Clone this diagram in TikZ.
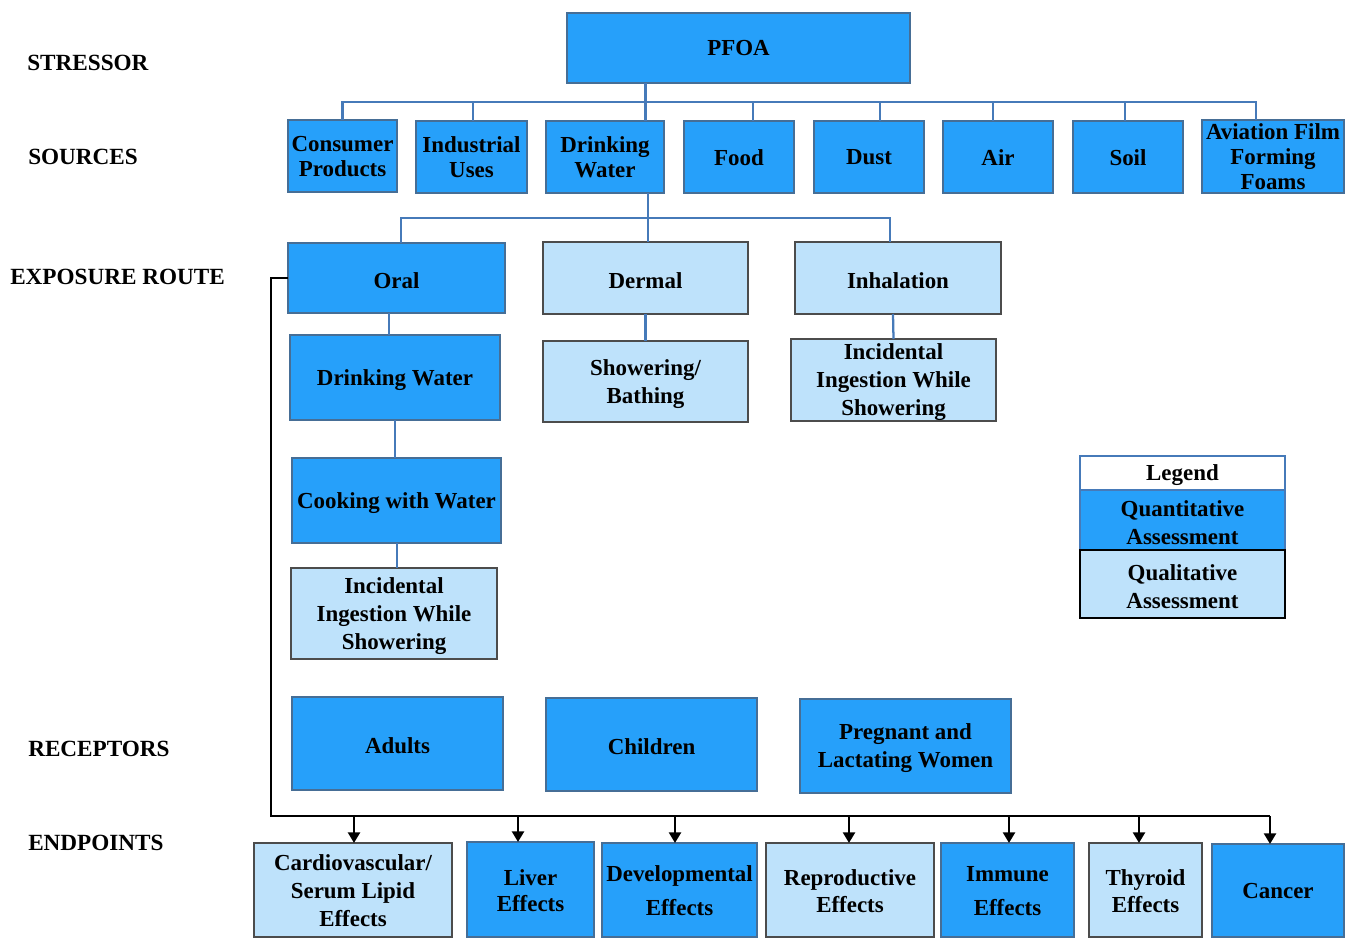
\documentclass[tikz,border=0pt]{standalone}
\usepackage{fontspec}
\setmainfont{Liberation Serif}
\usetikzlibrary{arrows.meta,calc}
\definecolor{qdark}{RGB}{38,160,250}
\definecolor{qlight}{RGB}{190,226,251}
\definecolor{connc}{RGB}{70,122,185}
\definecolor{bdark}{RGB}{70,110,150}
\tikzset{
 base/.style={inner sep=0pt, outer sep=0pt, align=center, font=\bfseries\fontsize{17.2}{21}\selectfont},
 dark/.style={base, fill=qdark, draw=bdark, line width=0.8pt},
 light/.style={base, fill=qlight, draw=gray!60!black, line width=0.8pt},
 src/.style={dark, font=\bfseries\fontsize{17.2}{18.75}\selectfont},
 lbl/.style={anchor=west, inner sep=0pt, font=\bfseries\fontsize{17.4}{21}\selectfont},
 conn/.style={draw=connc, line width=1.7pt},
 blk/.style={draw=black, line width=1.8pt},
 arr/.style={blk, -{Triangle[length=8pt,width=9pt]}},
 txt/.style={draw=none, fill=none, minimum width=0pt, minimum height=0pt},
}
\def\tsh{2.5}
\newcommand\bx[7]{%
 \pgfmathsetmacro\bw{(#4-#2)*0.75}%
 \pgfmathsetmacro\bh{(#5-#3)*0.75}%
 \node[#6, minimum width=\bw pt, minimum height=\bh pt] (#1) at ({(#2+#4)/2},{(#3+#5)/2}) {};%
 \node[#6, txt] (#1-t) at ($(#1.center)+(0,\tsh)$) {#7};%
}
\begin{document}
\begin{tikzpicture}[x=0.75pt,y=-0.75pt]
\useasboundingbox (0,0) rectangle (1353,938);

% row labels
\node[lbl] (l1) at (27,63) {STRESSOR};
\node[lbl] (l2) at (28,157) {SOURCES};
\node[lbl] (l3) at (10,277) {EXPOSURE ROUTE};
\node[lbl] (l4) at (28,749) {RECEPTORS};
\node[lbl] (l5) at (28,843) {ENDPOINTS};

\def\tsh{0.5}
% stressor
\bx{pfoa}{567}{13}{910}{83}{dark}{PFOA}

% sources
\bx{cons}{288}{120}{397}{192}{src}{Consumer\\Products}
\bx{ind}{416}{121}{527}{193}{src}{Industrial\\Uses}
\bx{dwsrc}{546}{121}{664}{193}{src}{Drinking\\Water}
\bx{food}{684}{121}{794}{193}{src}{Food}
\bx{dust}{814}{121}{924}{193}{src}{Dust}
\bx{air}{943}{121}{1053}{193}{src}{Air}
\bx{soil}{1073}{121}{1183}{193}{src}{Soil}
\bx{avi}{1202}{120}{1344}{193}{src}{Aviation Film\\Forming\\Foams}

\def\tsh{2.5}
% exposure routes
\bx{oral}{288}{243}{505}{313}{dark}{Oral}
\bx{derm}{543}{242}{748}{314}{light}{Dermal}
\bx{inh}{795}{242}{1001}{314}{light}{Inhalation}
\bx{dw}{290}{335}{500}{420}{dark}{Drinking Water}
\bx{cook}{292}{458}{501}{543}{dark}{Cooking with Water}
\bx{inca}{291}{568}{497}{659}{light}{Incidental\\Ingestion While\\Showering}
\bx{show}{543}{341}{748}{422}{light}{Showering/\\Bathing}
\bx{incb}{791}{339}{996}{421}{light}{Incidental\\Ingestion While\\Showering}

% legend
\bx{lg}{1080}{456}{1285}{490}{base, fill=white, draw=connc, line width=1.2pt}{Legend}
\bx{lgq}{1080}{490}{1285}{550}{dark, draw=connc, line width=1.2pt}{Quantitative\\Assessment}
\bx{lgl}{1080}{550}{1285}{618}{light, draw=black, line width=1.5pt}{Qualitative\\Assessment}

% receptors
\bx{adu}{292}{697}{503}{790}{dark}{Adults}
\bx{chi}{546}{698}{757}{791}{dark}{Children}
\bx{pre}{800}{699}{1011}{793}{dark}{Pregnant and\\Lactating Women}

% endpoints
\def\tsh{1}
\bx{card}{254}{843}{452}{937}{light}{Cardiovascular/\\Serum Lipid\\Effects}
\bx{liv}{467}{842}{594}{937}{dark}{Liver\\[-2pt]Effects}
\bx{dev}{602}{843}{757}{937}{dark}{Developmental\\[4.5pt]Effects}
\bx{rep}{766}{843}{934}{937}{light}{Reproductive\\[-1pt]Effects}
\bx{imm}{941}{843}{1074}{937}{dark}{Immune\\[4.5pt]Effects}
\bx{thy}{1089}{843}{1202}{937}{light}{Thyroid\\[-1pt]Effects}
\bx{can}{1212}{844}{1344}{937}{dark}{Cancer}

% source connectors
\coordinate (sbus) at (645.5,102);
\draw[conn] ($(pfoa.south)+(-93,0)$) -- ($(dwsrc.north)+(40.5,0)$);
\draw[conn] (cons.north) |- (sbus) -| ($(avi.north)+(-17,0)$);
\draw[conn] ($(ind.north)+(1.5,0)$) -- ++(0,-19);
\draw[conn] ($(food.north)+(14,0)$) -- ++(0,-19);
\draw[conn] ($(dust.north)+(11,0)$) -- ++(0,-19);
\draw[conn] ($(air.north)+(-5,0)$) -- ++(0,-19);
\draw[conn] ($(soil.north)+(-3,0)$) -- ++(0,-19);

% exposure connectors
\coordinate (xbus) at (648,218);
\draw[conn] ($(dwsrc.south)+(43,0)$) -- ($(derm.north)+(2.5,0)$);
\draw[conn] ($(oral.north)+(4.5,0)$) |- (xbus) -| ($(inh.north)+(-8,0)$);
\draw[conn] ($(oral.south)+(-7.5,0)$) -- ($(dw.north)+(-6,0)$);
\draw[conn] (dw.south) -- ($(cook.north)+(-1.5,0)$);
\draw[conn] ($(cook.south)+(0.5,0)$) -- ($(inca.north)+(3,0)$);
\draw[conn] (derm.south) -- (show.north);
\draw[conn] ($(inh.south)+(-5,0)$) -- (incb.north);

% endpoint connectors
\coordinate (ebus) at (271,816);
\draw[blk] (oral.west) -| (ebus) -- ($(can.north)+(-8,-28)$);
\draw[arr] ($(card.north)+(1,-27)$) -- ($(card.north)+(1,0)$);
\draw[arr] ($(liv.north)+(-12.5,-26)$) -- ($(liv.north)+(-12.5,0)$);
\draw[arr] ($(dev.north)+(-4.5,-27)$) -- ($(dev.north)+(-4.5,0)$);
\draw[arr] ($(rep.north)+(-1,-27)$) -- ($(rep.north)+(-1,0)$);
\draw[arr] ($(imm.north)+(1.5,-27)$) -- ($(imm.north)+(1.5,0)$);
\draw[arr] ($(thy.north)+(-6.5,-27)$) -- ($(thy.north)+(-6.5,0)$);
\draw[arr] ($(can.north)+(-8,-28)$) -- ($(can.north)+(-8,0)$);
\end{tikzpicture}
\end{document}
